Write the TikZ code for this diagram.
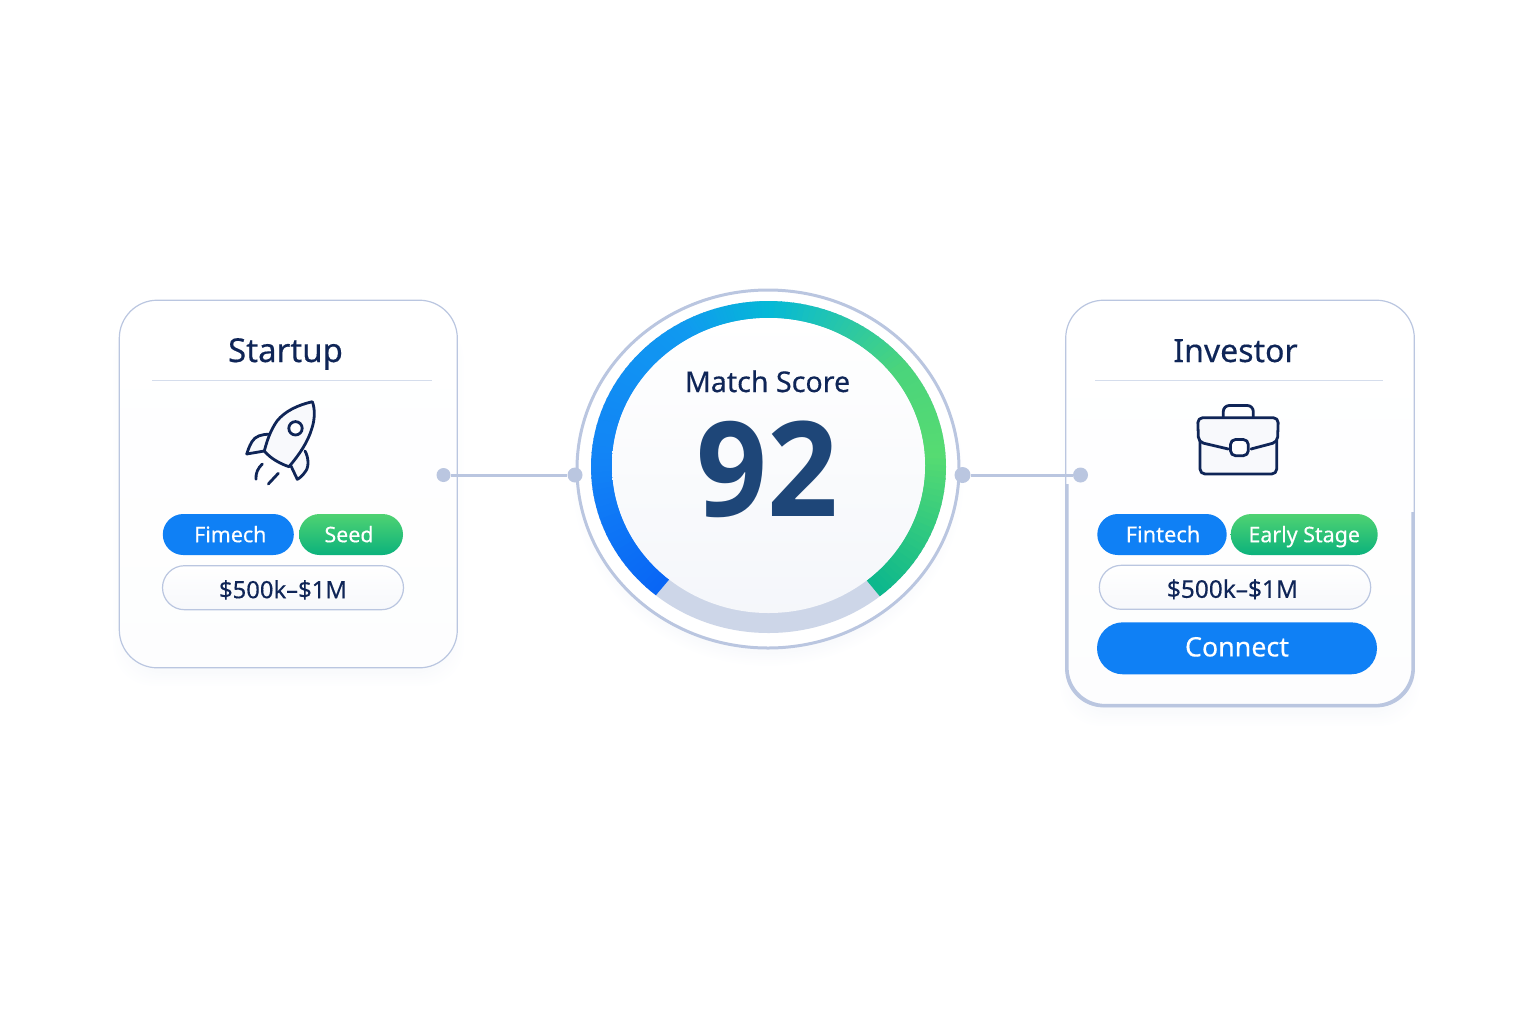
\documentclass[tikz,border=0pt]{standalone}
\usepackage{fontspec}
\setmainfont{Noto Sans}[FakeBold=0.35]
\newfontfamily\scorefont{Open Sans Bold}[FakeStretch=0.94]
\usetikzlibrary{shapes.misc}
\definecolor{inkblue}{HTML}{0F2557}
\definecolor{scoreblue}{HTML}{1E4678}
\definecolor{edgeblue}{HTML}{BAC6E0}
\definecolor{hairblue}{HTML}{D5DDEC}
\definecolor{gaugegrey}{HTML}{CDD6E8}
\definecolor{chipblue}{HTML}{0F80F5}
\definecolor{chiptop}{HTML}{4FD272}
\definecolor{chipbottom}{HTML}{0BB27C}
\definecolor{stopa}{HTML}{0966F5}
\definecolor{stopb}{HTML}{1283F6}
\definecolor{stopc}{HTML}{109AF0}
\definecolor{stopd}{HTML}{05B9D6}
\definecolor{stope}{HTML}{4AD47C}
\definecolor{stopf}{HTML}{56DB72}
\definecolor{stopg}{HTML}{0AB68E}
\tikzset{
  card/.style={rectangle,draw=edgeblue,line width=0.6pt,rounded corners=19pt,top color=white,bottom color=white!97!edgeblue,inner sep=0pt},
  title/.style={text=inkblue,font=\fontsize{16.5}{20}\selectfont,anchor=base},
  chip/.style={rounded rectangle,inner sep=0pt,minimum height=20.5pt,text=white,text height=7.7pt,text depth=0pt,font=\fontsize{10.7}{13}\selectfont},
  bluechip/.style={chip,fill=chipblue},
  greenchip/.style={chip,top color=chiptop,bottom color=chipbottom},
  rangechip/.style={rounded rectangle,inner sep=0pt,minimum height=22pt,draw=edgeblue,line width=0.6pt,top color=white,bottom color=white!88!edgeblue,text=inkblue,text height=10.5pt,text depth=0pt,font=\fontsize{11.9}{13}\selectfont},
  dot/.style={circle,fill=edgeblue,inner sep=0pt,minimum size=7.5pt},
  link/.style={edgeblue,line width=1.5pt},
  icon/.style={inkblue,line width=1.4pt,line join=round,line cap=round},
  iconfill/.style={icon,fill=white!90!edgeblue}
}
\begin{document}
\begin{tikzpicture}[x=0.5pt,y=-0.5pt]
\useasboundingbox (0,0) rectangle (1536,1024);
\foreach \g in {0,2,...,14}{
  \fill[edgeblue,opacity=0.012,rounded corners=20pt] ({127-\g},{320}) rectangle ({450+\g},{672+\g});
  \fill[edgeblue,opacity=0.012,rounded corners=20pt] ({1074-\g},{320}) rectangle ({1406+\g},{712+\g});
  \fill[edgeblue,opacity=0.012] (768,478) ellipse ({182+\g} and {174+\g});
}
\node[card,minimum width=169pt,minimum height=183.8pt] (startcard) at (288.3,484) {};
\node[card,minimum width=174.3pt,minimum height=203.3pt] (investcard) at (1240,503.5) {};
\draw[edgeblue,line width=1.6pt,rounded corners=19pt] (1067,484) -- (1067,705.5) -- (1413,705.5) -- (1413,512);
\node[title] (starttitle) at (285.5,362) {Startup};
\node[title,font=\fontsize{16}{20}\selectfont] (investtitle) at (1235.5,362) {Investor};
\draw[hairblue,line width=0.5pt] (152,380.5) -- (432,380.5);
\draw[hairblue,line width=0.5pt] (1095,380.5) -- (1383,380.5);
\draw[iconfill] (270,434.3) .. controls (262,434) and (255,436) .. (251.7,442) .. controls (249,447) and (248,450) .. (246.7,454) -- (264.3,451);
\draw[iconfill] (305,451) .. controls (309,458) and (309,468) .. (305,472) .. controls (303,475) and (300,478) .. (297.3,479.3) -- (291,466);
\draw[iconfill] (312.3,401.7) .. controls (298,405) and (285,411) .. (277,421) .. controls (270,431) and (267,441) .. (264.3,451) .. controls (271,459) and (281,464) .. (289,466.7) .. controls (299,455) and (308,442) .. (312,428) .. controls (315,419) and (315,408) .. (312.3,401.7);
\draw[icon,fill=white] (295.5,428.3) circle (6.7);
\draw[icon] (262.3,464) .. controls (258,468) and (255.5,473) .. (256,479.3);
\draw[icon] (278.3,473.3) -- (268.3,484);
\draw[icon,rounded corners=3pt] (1223.3,417.7) -- (1223.3,405.5) -- (1253.3,405.5) -- (1253.3,417.7);
\draw[iconfill,rounded corners=2.5pt] (1200,440) -- (1200,474) -- (1276.7,474) -- (1276.7,440);
\draw[iconfill,rounded corners=2.5pt] (1228.3,449) -- (1198.5,442) -- (1197.7,417.7) -- (1278.3,417.7) -- (1277.5,442) -- (1251,449);
\draw[icon,fill=white,rounded corners=2.5pt] (1230.5,439.5) rectangle (1248.3,455.7);
\node[bluechip,minimum width=65.5pt] (startsector) at (228.3,534.5) {\hspace*{2pt}Fimech};
\node[greenchip,minimum width=52pt] (startstage) at (351,534.5) {Seed\hspace*{2pt}};
\node[rangechip,minimum width=120.5pt] (startrange) at (283,587.7) {\$500k–\$1M};
\node[bluechip,minimum width=64.7pt,font=\fontsize{10.9}{13}\selectfont] (investsector) at (1162,534.5) {\hspace*{1pt}Fintech};
\node[greenchip,minimum width=73.5pt] (investstage) at (1304.2,534.5) {Early Stage};
\node[rangechip,minimum width=135.7pt,font=\fontsize{12.2}{13}\selectfont] (investrange) at (1235,587.3) {\$500k–\$1M\hspace*{2.5pt}};
\node[bluechip,minimum width=140pt,minimum height=26pt,text height=9.6pt,text depth=1.5pt,font=\fontsize{13.4}{15}\selectfont] (connect) at (1237,648.3) {Connect};
\draw[edgeblue,line width=1.5pt,fill=white] (768,469) ellipse (191 and 179);
\fill[gaugegrey] (768.5,467) ellipse (177.5 and 166);
\foreach \a/\b/\ca/\cb in {129.4/180/stopa/stopb,180/240/stopb/stopc,240/270/stopc/stopd,270/320/stopd/stope,320/355/stope/stopf,355/410.6/stopf/stopg}{
  \foreach \t in {0,4,...,96}{
    \pgfmathsetmacro{\p}{\a+(\b-\a)*\t/100}
    \pgfmathsetmacro{\q}{\a+(\b-\a)*(\t+5)/100}
    \fill[\cb!\t!\ca] ({768.5+177.5*cos(\p)},{467+166*sin(\p)}) -- ({768.5+177.5*cos(\q)},{467+166*sin(\q)}) -- ({768.5+156.5*cos(\q)},{465.5+147.5*sin(\q)}) -- ({768.5+156.5*cos(\p)},{465.5+147.5*sin(\p)}) -- cycle;
  }
}
\shade[top color=white,bottom color=white!85!edgeblue] (768.5,465.5) ellipse (156.5 and 147.5);
\node[title,font=\fontsize{14.3}{17}\selectfont] (scorelabel) at (767.5,392) {Match Score};
\node[text=scoreblue,font=\fontsize{66}{70}\scorefont,anchor=base] (scorevalue) at (767,516) {92};
\node[dot,minimum size=7pt] (startdot) at (443.5,475) {};
\node[dot] (scoreleft) at (575,475) {};
\node[dot,minimum size=8pt] (scoreright) at (962.5,475) {};
\node[dot] (investdot) at (1080.5,475) {};
\draw[link] (startdot) -- (scoreleft);
\draw[link] (scoreright) -- (investdot);
\end{tikzpicture}
\end{document}
